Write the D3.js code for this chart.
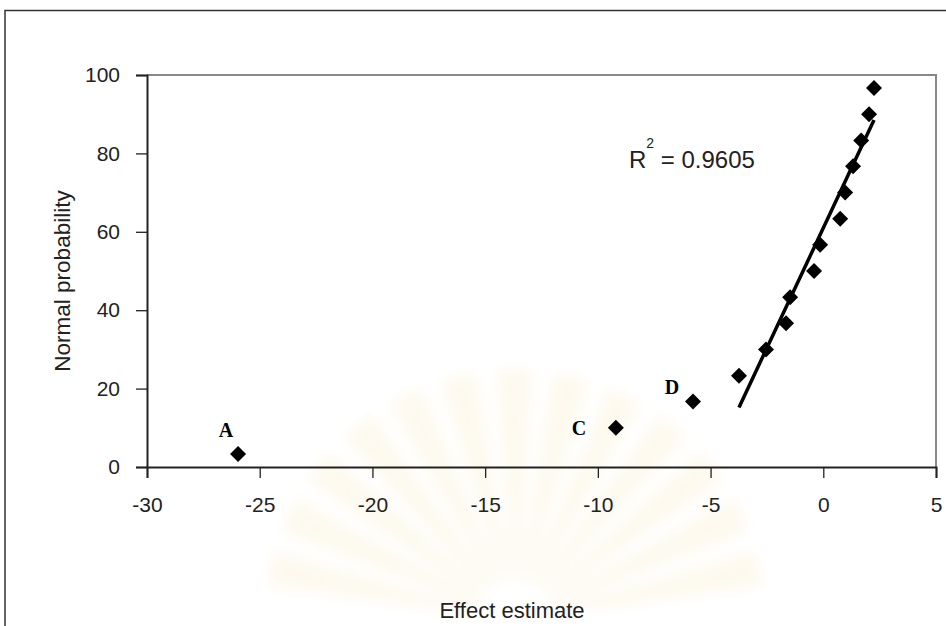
<!DOCTYPE html>
<html>
<head>
<meta charset="utf-8">
<script src="https://cdn.jsdelivr.net/npm/d3@7"></script>
<style>
  html, body { margin: 0; padding: 0; background: #fff; }
  svg { display: block; }
</style>
</head>
<body>
<svg id="chart" width="946" height="626"></svg>
<script>
// effect estimates (sorted) and their normal probability (%)
const effect = [-25.96, -9.2, -5.78, -3.74, -2.54, -1.65, -1.47, -0.41, -0.14, 0.75, 0.97, 1.32, 1.68, 2.03, 2.25]
const prob = [3.3, 10, 16.7, 23.3, 30, 36.7, 43.3, 50, 56.7, 63.3, 70, 76.7, 83.3, 90, 96.7]
// labels on the outlying effects (first three points)
const pointLabels = ['A', 'C', 'D']
const xTicks = [-30, -25, -20, -15, -10, -5, 0, 5]
const yTicks = [0, 20, 40, 60, 80, 100]
const fitStart = 3 // trendline fitted on the remaining points
const r2Text = '0.9605'

const svg = d3.select('#chart')
const font = 'Liberation Sans, Arial, sans-serif'

const x = d3.scaleLinear().domain([-30, 5]).range([147, 936])
const y = d3.scaleLinear().domain([0, 100]).range([467, 75])

// very faint watermark behind everything
const defs = svg.append('defs')
defs.append('filter').attr('id', 'soft')
	.append('feGaussianBlur').attr('stdDeviation', 7)
const wm = svg.append('g')
	.attr('transform', 'translate(515,620)')
	.attr('filter', 'url(#soft)')
d3.range(-78, 79, 13).forEach(a => {
	const r = a * Math.PI / 180
	wm.append('path')
		.attr('d', d3.arc()({ innerRadius: 40, outerRadius: 250, startAngle: r - 0.07, endAngle: r + 0.07 }))
		.attr('fill', '#fdf9ee')
})

// outer frame
svg.append('path')
	.attr('d', 'M 5 630 L 5 10.5 L 950 10.5')
	.attr('fill', 'none')
	.attr('stroke', '#333')
	.attr('stroke-width', 1.5)

// plot area border (top and right)
svg.append('path')
	.attr('d', `M ${x(-30)} ${y(100)} L ${x(5)} ${y(100)} L ${x(5)} ${y(0)}`)
	.attr('fill', 'none')
	.attr('stroke', '#888')
	.attr('stroke-width', 2)

// axes
const xAxis = d3.axisBottom(x).tickValues(xTicks).tickSize(11).tickPadding(19).tickFormat(d3.format('d'))
const yAxis = d3.axisLeft(y).tickValues(yTicks).tickSize(11).tickPadding(16).tickFormat(d3.format('d'))

const gx = svg.append('g').attr('transform', `translate(0,${y(0)})`).call(xAxis)
const gy = svg.append('g').attr('transform', `translate(${x(-30)},0)`).call(yAxis)

;[gx, gy].forEach(g => {
	g.select('.domain').attr('stroke', '#222').attr('stroke-width', 2)
	g.selectAll('.tick line').attr('stroke', '#222').attr('stroke-width', 1.3)
	g.selectAll('.tick text')
		.attr('fill', '#222')
		.style('font-family', font)
		.style('font-size', '21px')
})
gx.selectAll('.tick text').text(d => d < 0 ? '-' + Math.abs(d) : d)

// axis titles
svg.append('text')
	.attr('x', 512)
	.attr('y', 618)
	.attr('text-anchor', 'middle')
	.attr('fill', '#222')
	.style('font-family', font)
	.style('font-size', '22px')
	.text('Effect estimate')

svg.append('text')
	.attr('transform', `translate(70,${y(50) + 10}) rotate(-90)`)
	.attr('text-anchor', 'middle')
	.attr('fill', '#222')
	.style('font-family', font)
	.style('font-size', '22.5px')
	.text('Normal probability')

// linear trendline over the straight part
const fx = effect.slice(fitStart)
const fy = prob.slice(fitStart)
const mx = d3.mean(fx), my = d3.mean(fy)
const slope = d3.sum(fx, (v, i) => (v - mx) * (fy[i] - my)) / d3.sum(fx, v => (v - mx) * (v - mx))
const icpt = my - slope * mx
const [x0, x1] = d3.extent(fx)

svg.append('line')
	.attr('x1', x(x0)).attr('y1', y(icpt + slope * x0))
	.attr('x2', x(x1)).attr('y2', y(icpt + slope * x1))
	.attr('stroke', '#000')
	.attr('stroke-width', 3.5)

// diamond markers
const pts = effect.map((v, i) => ({ x: v, y: prob[i] }))
const dm = 8
svg.append('g').selectAll('path')
	.data(pts)
	.enter()
	.append('path')
	.attr('d', d => {
		const cx = x(d.x), cy = y(d.y)
		return `M ${cx} ${cy - dm} L ${cx + dm} ${cy} L ${cx} ${cy + dm} L ${cx - dm} ${cy} Z`
	})
	.attr('fill', '#000')

// outlier labels
const labOff = [[-12, -17], [-37, 7], [-21, -8]]
svg.append('g').selectAll('text')
	.data(pointLabels)
	.enter()
	.append('text')
	.attr('x', (d, i) => x(effect[i]) + labOff[i][0])
	.attr('y', (d, i) => y(prob[i]) + labOff[i][1])
	.attr('text-anchor', 'middle')
	.attr('fill', '#000')
	.style('font-family', 'Liberation Serif, Times New Roman, serif')
	.style('font-weight', 'bold')
	.style('font-size', '20px')
	.text(d => d)

// R squared annotation
const rt = svg.append('text')
	.attr('x', 629)
	.attr('y', 168)
	.attr('fill', '#222')
	.style('font-family', font)
	.style('font-size', '24px')
rt.append('tspan').text('R')
rt.append('tspan').attr('dy', -20).style('font-size', '14px').text('2')
rt.append('tspan').attr('dy', 20).text(' = ' + r2Text)
</script>
</body>
</html>
